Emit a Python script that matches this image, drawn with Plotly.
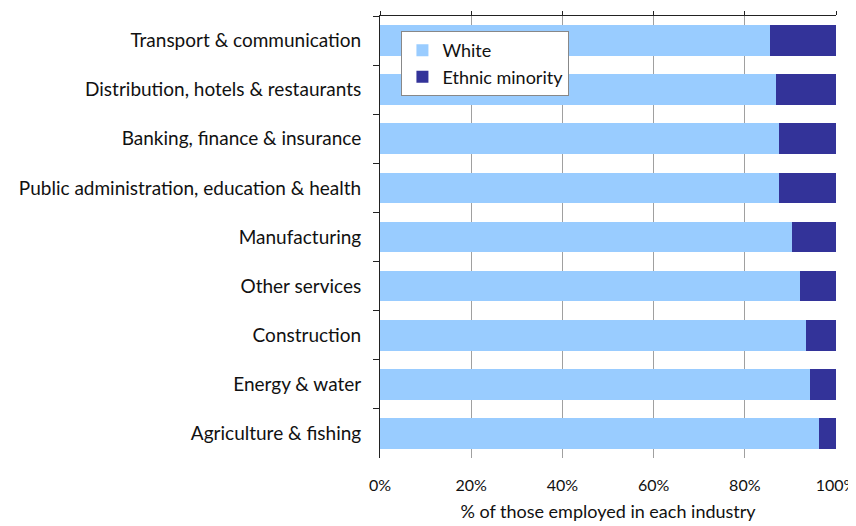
import plotly.graph_objects as go

categories = [
    "Transport & communication",
    "Distribution, hotels & restaurants",
    "Banking, finance & insurance",
    "Public administration, education & health",
    "Manufacturing",
    "Other services",
    "Construction",
    "Energy & water",
    "Agriculture & fishing",
]
white = [85.5, 86.8, 87.6, 87.6, 90.3, 92.0, 93.5, 94.4, 96.2]
ethnic_minority = [14.5, 13.2, 12.4, 12.4, 9.7, 8.0, 6.5, 5.6, 3.8]
tick_vals = [0, 20, 40, 60, 80, 100]
tick_text = ["0%", "20%", "40%", "60%", "80%", "100%"]
x_title = "% of those employed in each industry"

FONT = "Lato"

fig = go.Figure()
fig.add_trace(go.Bar(y=categories, x=white, name="White", orientation="h",
                     marker=dict(color="#99ccff", line=dict(width=0))))
fig.add_trace(go.Bar(y=categories, x=ethnic_minority, name="Ethnic minority", orientation="h",
                     marker=dict(color="#333399", line=dict(width=0))))
# dummy trace to activate the top axis
fig.add_trace(go.Scatter(x=[None], y=[None], xaxis="x2", showlegend=False, hoverinfo="skip"))

fig.update_layout(
    width=848, height=518,
    margin=dict(l=372, r=20, t=8, b=68, autoexpand=False),
    paper_bgcolor="white", plot_bgcolor="white",
    barmode="stack", bargap=0.375,
    font=dict(family=FONT, size=19, color="#111111"),
    showlegend=True,
    legend=dict(x=0.047, y=0.966, xanchor="left", yanchor="top",
                bgcolor="white", bordercolor="#888888", borderwidth=1,
                font=dict(size=18), traceorder="normal",
                itemwidth=30),
    xaxis=dict(range=[0, 100], tickvals=tick_vals, ticktext=tick_text,
               tickfont=dict(size=16),
               showgrid=True, gridcolor="#a0a0a0", gridwidth=1,
               showline=False, zeroline=False, automargin=False,
               ticklabeloverflow="allow",
               ticks="outside", ticklen=13, tickcolor="rgba(0,0,0,0)",
               title=dict(text=x_title, standoff=12, font=dict(size=18))),
    xaxis2=dict(range=[0, 100], overlaying="x", side="top", anchor="y",
                tickvals=tick_vals, showticklabels=False, showgrid=False,
                showline=True, linecolor="#222222", linewidth=1,
                ticks="outside", ticklen=4, tickcolor="#222222", zeroline=False,
                automargin=False),
    yaxis=dict(categoryorder="array", categoryarray=categories, autorange="reversed",
               showline=True, linecolor="#222222", linewidth=1,
               ticks="outside", ticklen=6, tickcolor="#222222",
               tickson="boundaries", showgrid=False, zeroline=False,
               automargin=False, ticklabelstandoff=14),
)

fig.write_html("out.html")
